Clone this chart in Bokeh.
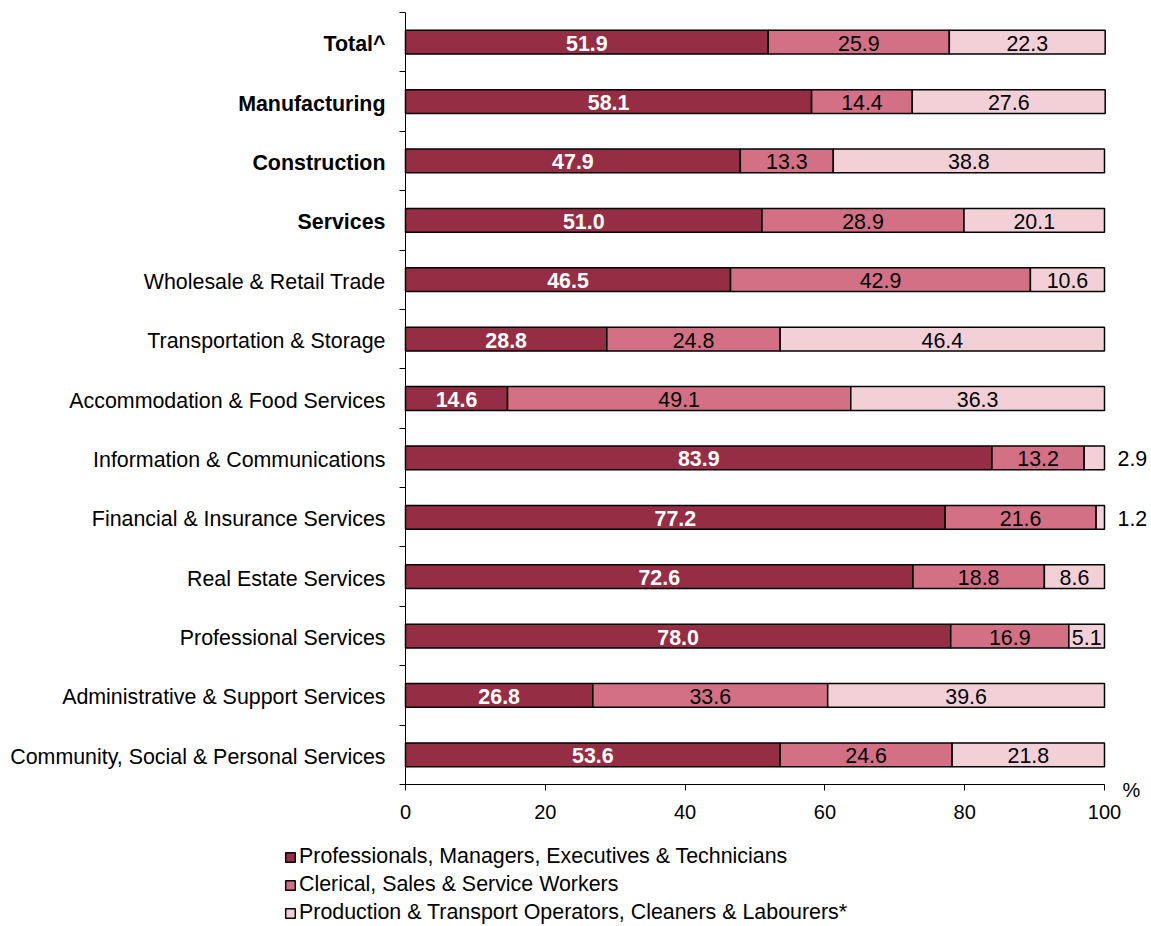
from bokeh.plotting import figure
from bokeh.models import (ColumnDataSource, Range1d, FixedTicker, LinearAxis,
                          Legend, LegendItem)
from bokeh.core.properties import value
from bokeh.embed import file_html
from bokeh.resources import INLINE

categories = ["Total^", "Manufacturing", "Construction", "Services",
              "Wholesale & Retail Trade", "Transportation & Storage",
              "Accommodation & Food Services", "Information & Communications",
              "Financial & Insurance Services", "Real Estate Services",
              "Professional Services", "Administrative & Support Services",
              "Community, Social & Personal Services"]
bold_flags = [True, True, True, True] + [False] * 9
pmet = [51.9, 58.1, 47.9, 51.0, 46.5, 28.8, 14.6, 83.9, 77.2, 72.6, 78.0, 26.8, 53.6]
clerical = [25.9, 14.4, 13.3, 28.9, 42.9, 24.8, 49.1, 13.2, 21.6, 18.8, 16.9, 33.6, 24.6]
production = [22.3, 27.6, 38.8, 20.1, 10.6, 46.4, 36.3, 2.9, 1.2, 8.6, 5.1, 39.6, 21.8]
series_names = ["Professionals, Managers, Executives & Technicians",
                "Clerical, Sales & Service Workers",
                "Production & Transport Operators, Cleaners & Labourers*"]
colors = ["#952D45", "#D47085", "#F3D0D8"]
x_ticks = [0, 20, 40, 60, 80, 100]

FONT = "Liberation Sans"
FS = "21.4px"       # labels, values, legend
FS_TICK = "20px"    # axis tick labels

# ---- layout (pixels on the canvas) ----
W, H = 1150, 925
AX_L, AX_R = 405.0, 1104.0      # x = 0 and x = 100
AX_T, AX_B = 12.0, 784.0        # top and bottom of the category axis

n = len(categories)
ys = list(range(n))
px_per_x = (AX_R - AX_L) / 100.0
band = (AX_B - AX_T) / n
x_start = -AX_L / px_per_x
x_end = 100 + (W - AX_R) / px_per_x
y_top = -0.5 - AX_T / band
y_bot = n - 0.5 + (H - AX_B) / band

p = figure(width=W, height=H, output_backend="svg", toolbar_location=None,
           x_range=Range1d(x_start, x_end), y_range=Range1d(y_bot, y_top),
           x_axis_location=None, y_axis_location=None,
           min_border=0, min_border_left=0, min_border_right=0,
           min_border_top=0, min_border_bottom=0)
p.outline_line_color = None
p.grid.visible = False
p.background_fill_color = "white"

src = ColumnDataSource(dict(y=ys, pmet=pmet, clerical=clerical, production=production))
rs = p.hbar_stack(["pmet", "clerical", "production"], y="y", height=0.4,
                  color=colors, line_color="black", line_width=1.5, source=src)

# x axis (fixed at the bottom of the category area)
xaxis = LinearAxis(fixed_location=n - 0.5, bounds=(0, 100),
                   ticker=FixedTicker(ticks=x_ticks, minor_ticks=[]))
xaxis.major_tick_out = 6
xaxis.major_tick_in = 0
xaxis.major_label_text_font = FONT
xaxis.major_label_text_font_size = FS_TICK
xaxis.major_label_text_color = "black"
xaxis.major_label_standoff = 14
xaxis.axis_line_color = "black"
xaxis.major_tick_line_color = "black"
p.add_layout(xaxis, "below")

# y axis (fixed at x = 0), ticks between categories
bounds = [i - 0.5 for i in range(n + 1)]
yaxis = LinearAxis(fixed_location=0, bounds=(-0.5, n - 0.5),
                   ticker=FixedTicker(ticks=[], minor_ticks=bounds))
yaxis.major_tick_out = 0
yaxis.major_tick_in = 0
yaxis.minor_tick_out = 6
yaxis.minor_tick_in = 0
yaxis.minor_tick_line_color = "black"
yaxis.major_label_text_font_size = "0px"
yaxis.axis_line_color = "black"
p.add_layout(yaxis, "left")

# category labels
cat_src = ColumnDataSource(dict(x=[0] * n, y=ys, t=categories,
                                st=["bold" if b else "normal" for b in bold_flags]))
p.text(x="x", y="y", text="t", source=cat_src, x_offset=-20, y_offset=2,
       text_align="right", text_baseline="middle", text_font=value(FONT),
       text_font_size=FS, text_font_style="st", text_color="black")

# value labels
dark_x = [v / 2 for v in pmet]
mid_x = [a + b / 2 for a, b in zip(pmet, clerical)]
in_x, in_y, in_t, out_y, out_t = [], [], [], [], []
for i, (a, b, c) in enumerate(zip(pmet, clerical, production)):
    if c < 4:
        out_y.append(i); out_t.append(f"{c:.1f}")
    else:
        in_x.append(a + b + c / 2); in_y.append(i); in_t.append(f"{c:.1f}")

p.text(x=dark_x, y=ys, text=[f"{v:.1f}" for v in pmet], y_offset=1,
       text_align="center", text_baseline="middle", text_font=value(FONT),
       text_font_size=FS, text_font_style="bold", text_color="white")
p.text(x=mid_x, y=ys, text=[f"{v:.1f}" for v in clerical], y_offset=1,
       text_align="center", text_baseline="middle", text_font=value(FONT),
       text_font_size=FS, text_color="black")
p.text(x=in_x, y=in_y, text=in_t, y_offset=1,
       text_align="center", text_baseline="middle", text_font=value(FONT),
       text_font_size=FS, text_color="black")
p.text(x=[100] * len(out_y), y=out_y, text=out_t, x_offset=13, y_offset=1,
       text_align="left", text_baseline="middle", text_font=value(FONT),
       text_font_size=FS, text_color="black")

p.text(x=[100], y=[n - 0.5], text=["%"], x_offset=27, y_offset=5,
       text_align="center", text_baseline="middle", text_font=value(FONT),
       text_font_size=FS_TICK, text_color="black")

legend = Legend(items=[LegendItem(label=nm, renderers=[r]) for nm, r in zip(series_names, rs)],
                location=(284, 0), orientation="vertical",
                glyph_width=12, glyph_height=12, label_standoff=3,
                label_height=20, spacing=3, padding=0, margin=0,
                label_text_font=FONT, label_text_font_size=FS,
                label_text_color="black",
                border_line_color=None, background_fill_alpha=0)
p.add_layout(legend, "center")

open("out.html", "w").write(file_html(p, INLINE))
